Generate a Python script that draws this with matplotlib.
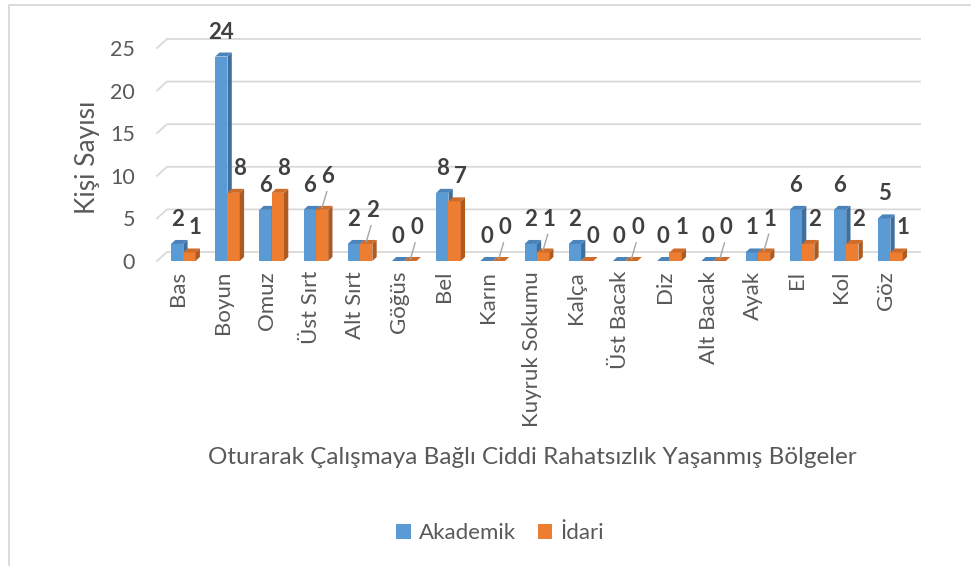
import matplotlib
matplotlib.use('Agg')
import matplotlib.pyplot as plt
from matplotlib.patches import Polygon, Patch
from matplotlib.lines import Line2D
import numpy as np

plt.rcParams['font.family'] = ['Lato', 'DejaVu Sans']

# Veriler
categories = ['Bas', 'Boyun', 'Omuz', 'Üst Sırt', 'Alt Sırt', 'Göğüs', 'Bel', 'Karın',
              'Kuyruk Sokumu', 'Kalça', 'Üst Bacak', 'Diz', 'Alt Bacak', 'Ayak', 'El', 'Kol', 'Göz']
akademik = [2, 24, 6, 6, 2, 0, 8, 0, 2, 2, 0, 0, 0, 1, 6, 6, 5]
idari = [1, 8, 8, 6, 2, 0, 7, 0, 1, 0, 0, 1, 0, 1, 2, 2, 1]
y_ticks = [0, 5, 10, 15, 20, 25]
series_names = ['Akademik', 'İdari']

# etiketleri çizgiyle bağlanan kategoriler (İdari)
leader_cats = ['Üst Sırt', 'Alt Sırt', 'Göğüs', 'Karın', 'Kuyruk Sokumu',
               'Üst Bacak', 'Alt Bacak', 'Ayak']

# Stil
text_col = '#595959'
label_col = '#404040'
grid_col = '#D9D9D9'
blue = ('#5B9BD5', '#3F6F9E', '#4A84BA')     # ön, yan, üst
orange = ('#ED7D31', '#AE5A21', '#D06C2A')

W, H = 971, 566
fig = plt.figure(figsize=(W / 100, H / 100), dpi=100)
ax = fig.add_axes([157 / W, 1 - 261 / H, 763 / W, 213 / H])
xlim = (-0.595, 16.67)
ax.set_xlim(*xlim)
ax.set_ylim(0, 25)
for s in ax.spines.values():
    s.set_visible(False)

px_x = 763 / (xlim[1] - xlim[0])   # piksel / birim
px_y = 213 / 25.0
DX, DY = 4.3 / px_x, 4 / px_y        # çubuk derinliği
GX, GY = 10 / px_x, 9 / px_y         # ızgara eğimi
bw = 12.3 / px_x

# ızgara çizgileri (3B arka duvar)
for v in y_ticks:
    ax.plot([xlim[0], xlim[0] + GX, xlim[1]], [v, v + GY, v + GY],
            color=grid_col, lw=1.3, clip_on=False, zorder=0)


def bar3d(x0, v, cols):
    front, side, top = cols
    ax.add_patch(Polygon([(x0, 0), (x0 + bw, 0), (x0 + bw, v), (x0, v)],
                         closed=True, fc=front, ec='none', zorder=2))
    ax.add_patch(Polygon([(x0 + bw, 0), (x0 + bw + DX, DY), (x0 + bw + DX, v + DY), (x0 + bw, v)],
                         closed=True, fc=side, ec='none', zorder=2))
    ax.add_patch(Polygon([(x0, v), (x0 + DX, v + DY), (x0 + bw + DX, v + DY), (x0 + bw, v)],
                         closed=True, fc=top, ec='none', zorder=2))


x = np.arange(len(categories))
pt = 72 / 100.0  # piksel -> punto
lbl = dict(ha='center', va='center', fontsize=16, fontweight='bold',
           color=label_col, zorder=5, textcoords='offset points')
for i, cat in enumerate(categories):
    bar3d(x[i] - bw, akademik[i], blue)
    bar3d(x[i], idari[i], orange)

    ax.annotate(str(akademik[i]), xy=(x[i] - bw / 2, akademik[i]),
                xytext=(0, 24.5 * pt), **lbl)
    if cat in leader_cats:
        ax.annotate(str(idari[i]), xy=(x[i] + bw / 2, idari[i] + 2 / px_y),
                    xytext=(6 * pt, 31 * pt),
                    arrowprops=dict(arrowstyle='-', color='#A6A6A6', lw=1,
                                    relpos=(0.5, 0), shrinkA=1, shrinkB=0), **lbl)
    else:
        ax.annotate(str(idari[i]), xy=(x[i] + bw / 2, idari[i]),
                    xytext=(6 * pt, 24.5 * pt), **lbl)

ax.set_yticks(y_ticks)
ax.set_yticklabels([str(t) for t in y_ticks], fontsize=15.5, color=text_col)
ax.set_xticks(x - 0.11)
ax.set_xticklabels(categories, rotation=90, fontsize=16, color=text_col)
ax.tick_params(axis='both', length=0)
ax.tick_params(axis='y', pad=22 * pt)
ax.tick_params(axis='x', pad=10 * pt)

fig.text(87 / W, 1 - 157 / H, 'Kişi Sayısı', rotation=90, ha='center', va='center',
         fontsize=19, color=text_col)
fig.text(532 / W, 1 - 458 / H,
         'Oturarak Çalışmaya Bağlı Ciddi Rahatsızlık Yaşanmış Bölgeler',
         ha='center', va='center', fontsize=17.5, color=text_col)

handles = [Patch(fc=blue[0], ec='none'), Patch(fc=orange[0], ec='none')]
leg = fig.legend(handles, series_names, loc='center', bbox_to_anchor=(500 / W, 1 - 533 / H),
                 ncol=2, frameon=False, fontsize=16, handlelength=0.65, handleheight=0.65,
                 handletextpad=0.35, columnspacing=1.0)
for t in leg.get_texts():
    t.set_color(text_col)

# çerçeve (sol ve üst kenar)
fig.add_artist(Line2D([8.5 / W, 8.5 / W, 1], [0, 1 - 4.5 / H, 1 - 4.5 / H],
                      transform=fig.transFigure, color=grid_col, lw=1.3))

fig.savefig('out.png', dpi=100)
